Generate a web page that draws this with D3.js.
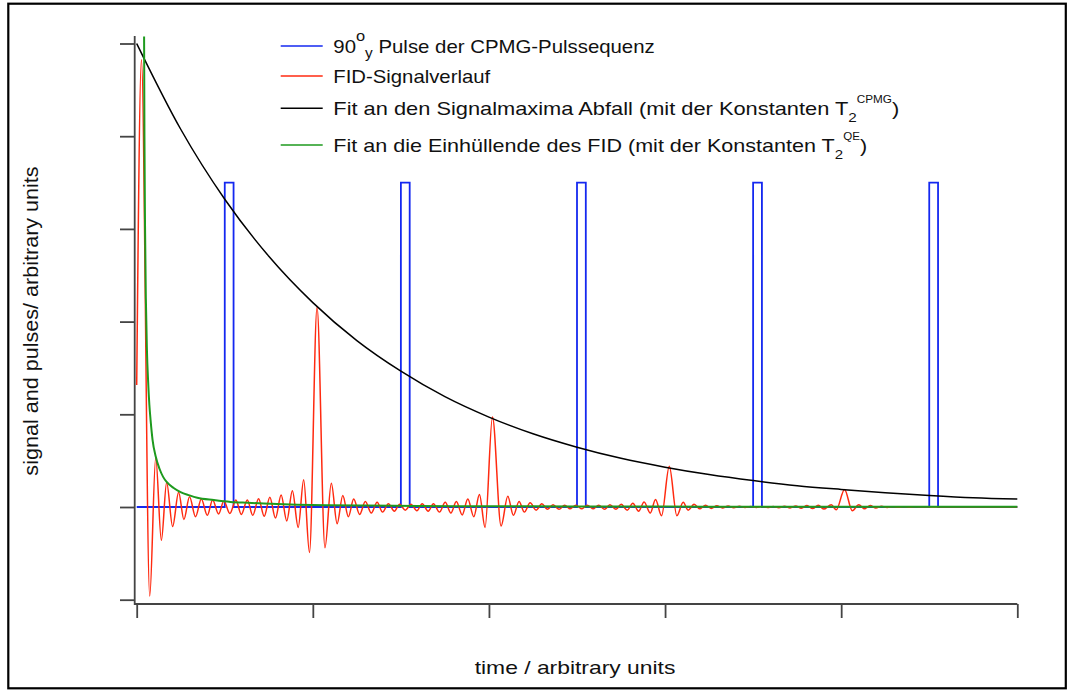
<!DOCTYPE html>
<html><head><meta charset="utf-8">
<script src="https://cdn.jsdelivr.net/npm/d3@7"></script>
<style>
body{margin:0;background:#fff}
svg{display:block}
text{font-family:"Liberation Sans",Arial,Helvetica,sans-serif;fill:#111}
</style>
</head><body>
<svg id="c" width="1070" height="691"></svg>
<script>
// ---------- data ----------
const xTicks = [0, 1, 2, 3, 4, 5];
const yTicks = [-20, 0, 20, 40, 60, 80, 100];

// 90°y pulses of the CPMG sequence
const pulseOn  = [0.50, 1.50, 2.50, 3.50, 4.50];
const pulseOff = [0.55, 1.55, 2.55, 3.55, 4.55];
const pulseHeight = 70;

// FID signal: extrema
const fidT = [0.000,0.027,0.074,0.108,0.140,0.170,0.204,0.238,0.268,0.300,0.334,0.367,0.401,0.431,0.465,0.495,0.529,0.563,0.594,0.628,0.659,0.692,0.724,0.756,0.788,0.820,0.852,0.884,0.917,0.948,0.981,
  1.024,1.069,1.105,1.138,1.170,1.202,1.232,1.266,1.298,1.332,1.365,1.396,1.429,1.463,1.493,1.525,1.557,1.591,1.621,1.655,1.685,1.719,1.752,1.784,1.815,1.848,1.880,1.914,1.946,1.978,
  2.020,2.069,2.107,2.139,2.171,2.201,2.234,2.268,2.300,2.332,2.364,2.398,2.430,2.460,2.494,2.527,2.558,2.592,2.623,2.657,2.687,2.721,2.751,2.785,2.817,2.850,2.881,2.916,2.946,2.980,
  3.024,3.067,3.103,3.131,3.165,3.197,3.230,3.262,3.294,3.326,3.358,3.390,3.422,3.454,3.486,3.518,3.550,3.582,3.614,3.646,3.678,3.710,3.742,3.774,3.806,3.838,3.870,3.902,3.944,3.972,
  4.019,4.063,4.100,4.132,4.165,4.197,4.229,4.261,4.293,4.325,4.357,4.389,4.421,4.453,4.485,4.517,4.549,4.581,5.000];
const fidV = [26.3,96.5,-19.2,10.7,-7.2,5.3,-4.2,3.2,-2.7,2.2,-2.1,1.7,-1.8,1.5,-1.5,1.3,-1.4,1.5,-1.6,1.5,-1.8,1.8,-2.0,2.1,-2.4,2.6,-3.0,3.5,-4.4,5.9,-9.8,
  43.1,-8.8,5.1,-3.6,2.5,-2.1,1.7,-1.6,1.2,-1.3,1.0,-1.1,0.7,-0.9,0.6,-0.7,0.6,-0.8,0.7,-0.9,0.7,-1.1,1.0,-1.3,1.2,-1.7,1.7,-2.1,2.7,-4.4,
  19.4,-4.1,2.3,-1.8,1.2,-1.1,0.9,-0.7,0.7,-0.5,0.5,-0.5,0.4,-0.4,0.4,-0.4,0.4,-0.4,0.4,-0.5,0.5,-0.5,0.6,-0.7,0.8,-0.9,1.1,-1.3,1.6,-1.9,
  8.8,-1.9,1.0,-0.7,0.6,-0.4,0.4,-0.3,0.25,-0.2,0.2,-0.15,0.15,-0.1,0.1,-0.1,0.1,-0.1,0.12,-0.15,0.18,-0.2,0.22,-0.25,0.3,-0.35,0.4,-0.45,0.5,-0.6,
  3.8,-0.8,0.5,-0.4,0.3,-0.2,0.15,-0.1,0.08,-0.06,0.05,-0.04,0.03,-0.02,0.02,-0.01,0.01,0,0];

// fit through the echo maxima (T2 CPMG)
const fitT = [0,0.25,0.5,0.75,1.0,1.25,1.5,1.75,2.0,2.25,2.5,2.75,3.0,3.25,3.5,3.75,4.0,4.25,4.5,4.75,5.0];
const fitV = [100,81.5,66.4,54.1,44.1,35.9,29.3,23.8,19.4,15.8,12.9,10.5,8.6,7.0,5.7,4.6,3.8,3.1,2.5,2.0,1.7];

// fit of the FID envelope (T2 QE)
const envT = [0.042,0.044,0.047,0.052,0.058,0.065,0.072,0.079,0.090,0.108,0.130,0.150,0.170,0.210,0.249,0.300,0.344,0.438,0.533,0.630,0.722,0.911,1.095,1.300,1.600,2.000,2.500,3.000,3.500,4.000,4.500,5.000];
const envV = [101.5,80,61.8,45,34,27,22,18.7,14.5,10.9,8.2,6.5,5.4,4.1,3.2,2.5,2.0,1.5,1.1,0.9,0.74,0.5,0.38,0.3,0.22,0.16,0.12,0.09,0.07,0.05,0.04,0.03];

const xTitle = "time / arbitrary units";
const yTitle = "signal and pulses/ arbitrary units";
const colors = {pulse:"#1428f0", fid:"#ff2a10", fit:"#000000", env:"#1e9a1e"};

// ---------- drawing ----------
const svg = d3.select("#c");
const x = d3.scaleLinear().domain([0,5]).range([136.7,1017.3]);
const y = d3.scaleLinear().domain([-20,100]).range([599.7,43.5]);
const plotL = 134.7, plotR = 1017.3, plotT = 36, plotB = 604;
const FS = 18.6;

// outer frame
svg.append("rect").attr("x",8.3).attr("y",3.7).attr("width",1057.5).attr("height",684.6)
  .attr("fill","none").attr("stroke","#000").attr("stroke-width",2.2);

// axes: L box + outside ticks (no labels)
const axCol = "#444";
svg.append("path").attr("d",`M${plotL},${plotT}V${plotB}H${plotR}`)
  .attr("fill","none").attr("stroke",axCol).attr("stroke-width",1.8);
const yAx = d3.axisLeft(y).tickValues(yTicks).tickFormat("").tickSize(plotL-120).tickSizeOuter(0);
const gy = svg.append("g").attr("transform",`translate(${plotL},0)`).call(yAx);
const xAx = d3.axisBottom(x).tickValues(xTicks).tickFormat("").tickSize(618-plotB).tickSizeOuter(0);
const gx = svg.append("g").attr("transform",`translate(0,${plotB})`).call(xAx);
[gx,gy].forEach(g=>{ g.select(".domain").remove();
  g.selectAll(".tick line").attr("stroke",axCol).attr("stroke-width",1.8); });

// clip to plot area
svg.append("clipPath").attr("id","clip").append("rect")
  .attr("x",plotL).attr("y",plotT-1).attr("width",plotR-plotL+2).attr("height",plotB-plotT);
const plot = svg.append("g").attr("clip-path","url(#clip)");

// pulse train
const pulsePts = [[0,0]];
pulseOn.forEach((p,i)=>{ pulsePts.push([p,0],[p,pulseHeight],[pulseOff[i],pulseHeight],[pulseOff[i],0]); });
pulsePts.push([5,0]);
const lin = d3.line().x(d=>x(d[0])).y(d=>y(d[1]));
plot.append("path").attr("d",lin(pulsePts)).attr("fill","none")
  .attr("stroke",colors.pulse).attr("stroke-width",1.8).attr("stroke-linejoin","miter");

const smooth = d3.line().x(d=>x(d[0])).y(d=>y(d[1])).curve(d3.curveMonotoneX);
plot.append("path").attr("d",smooth(fidT.map((t,i)=>[t,fidV[i]]))).attr("fill","none")
  .attr("stroke",colors.fid).attr("stroke-width",1.5);
plot.append("path").attr("d",smooth(fitT.map((t,i)=>[t,fitV[i]]))).attr("fill","none")
  .attr("stroke",colors.fit).attr("stroke-width",1.5);
plot.append("path").attr("d",smooth(envT.map((t,i)=>[t,envV[i]]))).attr("fill","none")
  .attr("stroke",colors.env).attr("stroke-width",2);

// legend
const legend = [
  {c:colors.pulse, ly:46,  sx:1.096, parts:[["90",FS,0],["o",15,-11.7],["y",14,16.7],[" Pulse der CPMG-Pulssequenz",FS,-5]]},
  {c:colors.fid,   ly:76,  sx:1.092, parts:[["FID-Signalverlauf",FS,0]]},
  {c:colors.fit,   ly:108.3, sx:1.174, parts:[["Fit an den Signalmaxima Abfall (mit der Konstanten T",FS,0],["2",13,6.5],["CPMG",10,-18.5],[")",FS,12]]},
  {c:colors.env,   ly:145, sx:1.159, parts:[["Fit an die Einhüllende des FID (mit der Konstanten T",FS,0],["2",13,6.5],["QE",10,-18.5],[")",FS,12]]}
];
legend.forEach(L=>{
  svg.append("line").attr("x1",280.7).attr("x2",322.7).attr("y1",L.ly).attr("y2",L.ly)
    .attr("stroke",L.c).attr("stroke-width",1.6);
  const t = svg.append("text").attr("transform",`translate(333.3,${L.ly+7}) scale(${L.sx},1)`)
    .attr("font-size",FS);
  L.parts.forEach(p=>{ t.append("tspan").attr("font-size",p[1]).attr("dy",p[2]).text(p[0]); });
});

// axis titles
svg.append("text").attr("transform",`translate(575,674) scale(1.23,1)`)
  .attr("text-anchor","middle").attr("font-size",FS).text(xTitle);
svg.append("text").attr("transform",`translate(38,321) rotate(-90) scale(1.16,1.1)`)
  .attr("text-anchor","middle").attr("font-size",FS).text(yTitle);
</script>
</body></html>
